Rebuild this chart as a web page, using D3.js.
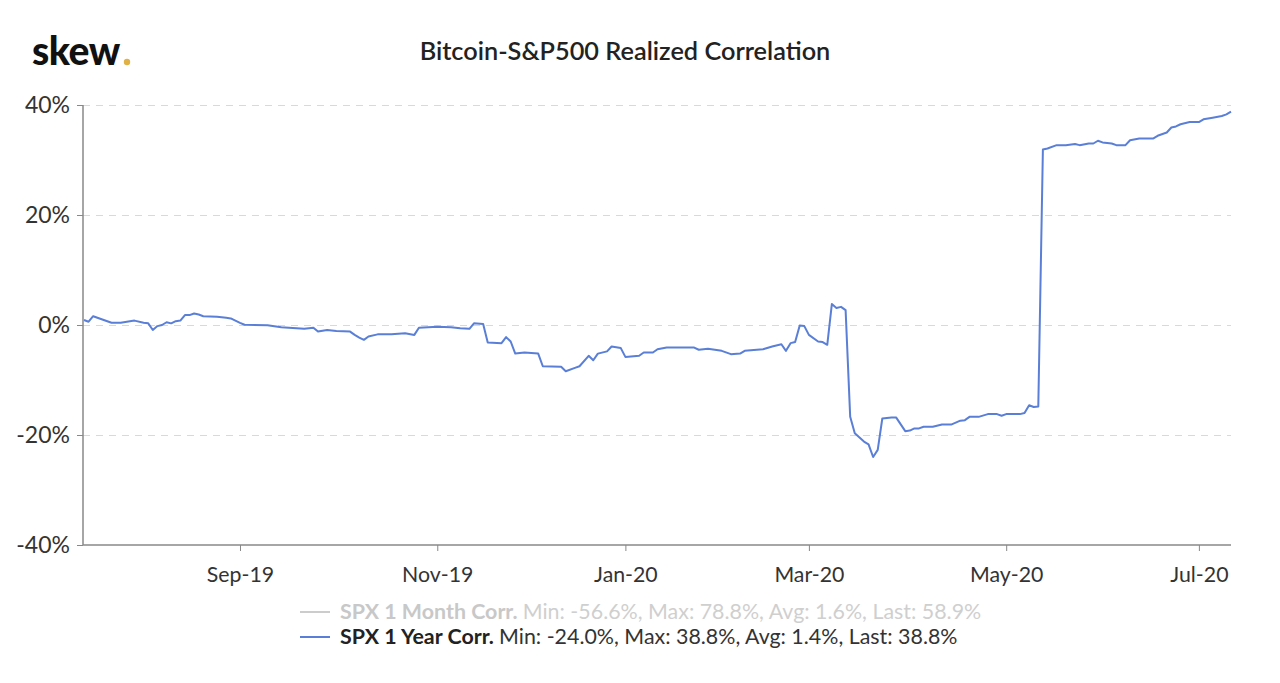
<!DOCTYPE html>
<html><head><meta charset="utf-8">
<script src="https://cdn.jsdelivr.net/npm/d3@7"></script>
<style>
body{margin:0;background:#fff;}
svg{display:block;font-family:Lato,"Noto Sans",sans-serif;}
</style>
</head><body><svg id="chart" width="1280" height="683"></svg>
<script>
const chartTitle = "Bitcoin-S&P500 Realized Correlation";
const logoText = "skew";
const yTicks = [-40, -20, 0, 20, 40];
const xTickMonths = ["2019-09", "2019-11", "2020-01", "2020-03", "2020-05", "2020-07"];
const xTickLabels = ["Sep-19", "Nov-19", "Jan-20", "Mar-20", "May-20", "Jul-20"];
const marketHolidays = ["2019-09-02", "2019-11-28", "2019-12-25", "2020-01-01", "2020-01-20",
  "2020-02-17", "2020-04-10", "2020-05-25", "2020-07-03"];

const dates = [
  "2019-07-16","2019-07-17","2019-07-18","2019-07-22","2019-07-24","2019-07-26","2019-07-31","2019-08-02",
  "2019-08-05","2019-08-06","2019-08-07","2019-08-08","2019-08-09","2019-08-12","2019-08-13","2019-08-14",
  "2019-08-15","2019-08-16","2019-08-19","2019-08-20","2019-08-21","2019-08-26","2019-08-28","2019-08-29",
  "2019-08-30","2019-09-03","2019-09-04","2019-09-11","2019-09-16","2019-09-23","2019-09-25","2019-09-26",
  "2019-09-30","2019-10-02","2019-10-07","2019-10-08","2019-10-09","2019-10-10","2019-10-11","2019-10-15",
  "2019-10-18","2019-10-23","2019-10-25","2019-10-28","2019-11-01","2019-11-06","2019-11-08","2019-11-12",
  "2019-11-13","2019-11-15","2019-11-18","2019-11-21","2019-11-22","2019-11-25","2019-11-26","2019-11-29",
  "2019-12-04","2019-12-05","2019-12-11","2019-12-12","2019-12-16","2019-12-17","2019-12-19","2019-12-20",
  "2019-12-23","2019-12-26","2019-12-27","2019-12-31","2020-01-02","2020-01-07","2020-01-08","2020-01-10",
  "2020-01-13","2020-01-15","2020-01-24","2020-01-27","2020-01-29","2020-02-03","2020-02-05","2020-02-07",
  "2020-02-10","2020-02-14","2020-02-19","2020-02-21","2020-02-24","2020-02-25","2020-02-26","2020-02-27",
  "2020-02-28","2020-03-02","2020-03-04","2020-03-05","2020-03-06","2020-03-09","2020-03-10","2020-03-11",
  "2020-03-12","2020-03-13","2020-03-16","2020-03-18","2020-03-19","2020-03-20","2020-03-23","2020-03-24",
  "2020-03-26","2020-03-27","2020-03-31","2020-04-01","2020-04-02","2020-04-03","2020-04-06","2020-04-08",
  "2020-04-13","2020-04-15","2020-04-17","2020-04-20","2020-04-21","2020-04-23","2020-04-27","2020-04-29",
  "2020-04-30","2020-05-01","2020-05-06","2020-05-07","2020-05-08","2020-05-11","2020-05-12","2020-05-13",
  "2020-05-14","2020-05-18","2020-05-20","2020-05-22","2020-05-26","2020-05-28","2020-05-29","2020-06-01",
  "2020-06-02","2020-06-04","2020-06-05","2020-06-09","2020-06-10","2020-06-12","2020-06-17","2020-06-18",
  "2020-06-22","2020-06-23","2020-06-24","2020-06-25","2020-06-29","2020-07-01","2020-07-02","2020-07-07",
  "2020-07-09","2020-07-10","2020-07-13"
];
const values = [
  0.9, 0.6, 1.6, 1.0, 0.4, 0.4, 0.8, 0.4,
  0.3, -0.9, -0.2, 0.0, 0.5, 0.3, 0.7, 0.8,
  1.8, 1.8, 2.1, 1.9, 1.6, 1.5, 1.3, 1.2,
  0.8, 0.4, 0.05, -0.05, -0.4, -0.7, -0.5, -1.2,
  -0.9, -1.1, -1.2, -1.8, -2.3, -2.7, -2.1, -1.7,
  -1.7, -1.5, -1.8, -0.5, -0.3, -0.4, -0.6, -0.7,
  0.3, 0.2, -3.2, -3.3, -2.2, -3.0, -5.2, -5.0,
  -5.2, -7.5, -7.6, -8.4, -7.8, -7.5, -5.6, -6.4,
  -5.2, -4.8, -3.9, -4.2, -5.8, -5.6, -5.0, -5.0,
  -4.4, -4.1, -4.1, -4.5, -4.3, -4.7, -5.3, -5.2,
  -4.7, -4.4, -3.9, -3.5, -4.7, -3.3, -3.1, -0.1,
  -0.2, -1.8, -3.0, -3.1, -3.6, 3.8, 3.1, 3.3,
  2.7, -16.7, -19.7, -21.2, -21.7, -24.0, -22.7, -17.0,
  -16.8, -16.8, -19.3, -19.2, -18.8, -18.8, -18.5, -18.5,
  -18.1, -18.1, -17.4, -17.3, -16.7, -16.7, -16.2, -16.2,
  -16.5, -16.2, -16.2, -16.0, -14.6, -14.9, -14.8, 31.9,
  32.1, 32.7, 32.7, 32.9, 32.7, 33.0, 33.0, 33.5,
  33.2, 33.0, 32.7, 32.7, 33.6, 33.9, 33.9, 34.4,
  35.0, 35.9, 36.1, 36.5, 36.9, 36.9, 37.4, 37.7,
  38.0, 38.3, 38.8
];
const legendNames = ["SPX 1 Month Corr.", "SPX 1 Year Corr."];
const legendStats = ["Min: -56.6%, Max: 78.8%, Avg: 1.6%, Last: 58.9%",
                     "Min: -24.0%, Max: 38.8%, Avg: 1.4%, Last: 38.8%"];
const legendColors = ["#cccccc", "#5a7fd6"];
const legendTextColors = [["#c8c8c8", "#cfcfcf"], ["#222222", "#333333"]];

const svg = d3.select("#chart");
const parse = d3.timeParse("%Y-%m-%d");
const fmt = d3.timeFormat("%Y-%m-%d");

// trading-day ordinal axis
const holidaySet = new Set(marketHolidays);
const tradingDays = d3.timeDay.range(parse(dates[0]), d3.timeDay.offset(parse(dates[dates.length - 1]), 1))
  .map(fmt)
  .filter(s => { const d = parse(s).getDay(); return d !== 0 && d !== 6 && !holidaySet.has(s); });

const plotLeft = 83, plotRight = 1231, plotTop = 105, plotBottom = 545;
const x = d3.scalePoint().domain(tradingDays).range([84, 1231]);
const y = d3.scaleLinear().domain([-40, 40]).range([plotBottom, plotTop]);

// logo
svg.append("text").attr("x", 32).attr("y", 65)
  .attr("font-size", 39).attr("font-weight", 900).attr("fill", "#111")
  .attr("letter-spacing", -0.5).text(logoText);
svg.append("circle").attr("cx", 127).attr("cy", 62).attr("r", 3.2).attr("fill", "#e0b245");

// title
svg.append("text").attr("x", 625).attr("y", 60).attr("text-anchor", "middle")
  .attr("font-size", 25.3).attr("font-weight", 600).attr("fill", "#222").text(chartTitle);

// grid
const grid = svg.append("g").attr("transform", `translate(${plotLeft},0)`)
  .call(d3.axisLeft(y).tickValues(yTicks.filter(v => v > -40)).tickSize(-(plotRight - plotLeft)).tickFormat(""));
grid.select(".domain").remove();
grid.selectAll("line").attr("stroke", "#d9d9d9").attr("stroke-dasharray", "7,6");

// y axis
const yAxis = svg.append("g").attr("transform", `translate(${plotLeft},0)`)
  .call(d3.axisLeft(y).tickValues(yTicks).tickSize(6).tickPadding(7).tickFormat(d => d + "%"));
yAxis.select(".domain").attr("stroke", "#888").attr("stroke-width", 1.5).attr("d", `M0,${plotTop}V${plotBottom}`);
yAxis.selectAll("line").attr("stroke", "#888");
yAxis.selectAll("text").attr("font-size", 23).attr("fill", "#333").attr("font-family", "Lato");

// x axis
const tickDays = xTickMonths.map(m => tradingDays.find(d => d.startsWith(m)));
const xAxis = svg.append("g").attr("transform", `translate(0,${plotBottom})`)
  .call(d3.axisBottom(x).tickValues(tickDays).tickSize(6).tickPadding(16)
    .tickFormat((d, i) => xTickLabels[i]));
xAxis.select(".domain").attr("stroke", "#888").attr("stroke-width", 1.5).attr("d", `M${plotLeft},0H${plotRight}`);
xAxis.selectAll("line").attr("stroke", "#888");
xAxis.selectAll("text").attr("font-size", 21.3).attr("fill", "#333").attr("font-family", "Lato");

// line
const series = dates.map((d, i) => ({ date: d, value: values[i] }));
svg.append("path").datum(series)
  .attr("fill", "none").attr("stroke", legendColors[1]).attr("stroke-width", 2)
  .attr("stroke-linejoin", "round")
  .attr("d", d3.line().x(d => x(d.date)).y(d => y(d.value)));

// legend
const legend = svg.append("g");
legendNames.forEach((name, i) => {
  const ly = 619 + i * 25;
  legend.append("line").attr("x1", 300).attr("x2", 330).attr("y1", ly - 7).attr("y2", ly - 7)
    .attr("stroke", legendColors[i]).attr("stroke-width", 2);
  const t = legend.append("text").attr("x", 340).attr("y", ly).attr("font-size", 21.4);
  t.append("tspan").attr("font-weight", 700).attr("fill", legendTextColors[i][0]).text(name + " ");
  t.append("tspan").attr("fill", legendTextColors[i][1]).text(legendStats[i]);
});
</script>
</body></html>
